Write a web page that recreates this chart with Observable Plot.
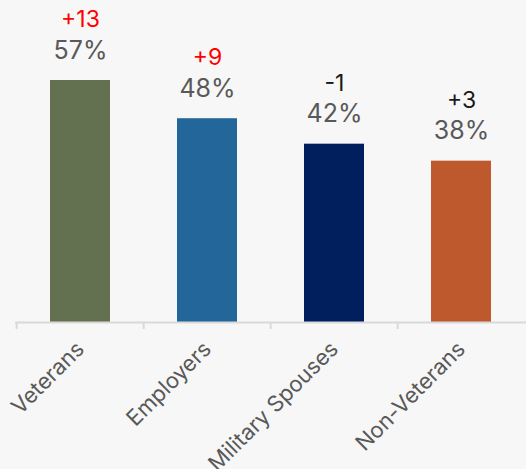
<!DOCTYPE html>
<html><head><meta charset="utf-8">
<script src="https://cdn.jsdelivr.net/npm/d3@7"></script>
<script src="https://cdn.jsdelivr.net/npm/@observablehq/plot@0.6"></script>
<style>
html,body{margin:0;padding:0;background:#f7f7f7;}
</style>
</head><body>
<div id="chart"></div>
<script>
const categories = ["Veterans", "Employers", "Military Spouses", "Non-Veterans"];
const values = [57, 48, 42, 38];
const changes = ["+13", "+9", "-1", "+3"];
const changeColors = ["#ff0000", "#ff0000", "#1a1a1a", "#1a1a1a"];
const barColors = ["#637150", "#236699", "#001f5c", "#bd592d"];

const data = categories.map((c, i) => ({cat: c, value: values[i], change: changes[i], cc: changeColors[i], bc: barColors[i]}));

const W = 526, H = 469;
const step = (W - 15) / categories.length;
const font = "Inter, Roboto, sans-serif";

const chart = Plot.plot({
  width: W,
  height: H,
  marginLeft: 15,
  marginRight: 0,
  marginTop: 80,
  marginBottom: 147,
  style: {background: "#f7f7f7", fontFamily: font},
  x: {domain: categories, paddingInner: 0.53, paddingOuter: 0.265, label: null},
  y: {domain: [0, 57], axis: null},
  marks: [
    Plot.barY(data, {x: "cat", y: "value", fill: "bc"}),
    Plot.ruleY([0], {stroke: "#d9d9d9", strokeWidth: 2}),
    Plot.axisX({tickSize: 7, dx: -step / 2, stroke: "#d9d9d9", strokeWidth: 2, text: null, tickFormat: null}),
    Plot.axisX({tickSize: 0, tickRotate: -45, tickPadding: 23, fontSize: 22, fill: "#595959", label: null}),
    Plot.text(data, {x: "cat", y: "value", text: d => d.value + "%", dy: -30, fontSize: 25, fill: "#595959", fontFamily: font}),
    Plot.text(data, {x: "cat", y: "value", text: "change", dy: -61, fontSize: 23, fill: "cc", fontFamily: font})
  ]
});
document.getElementById("chart").appendChild(chart);
</script>
</body></html>
